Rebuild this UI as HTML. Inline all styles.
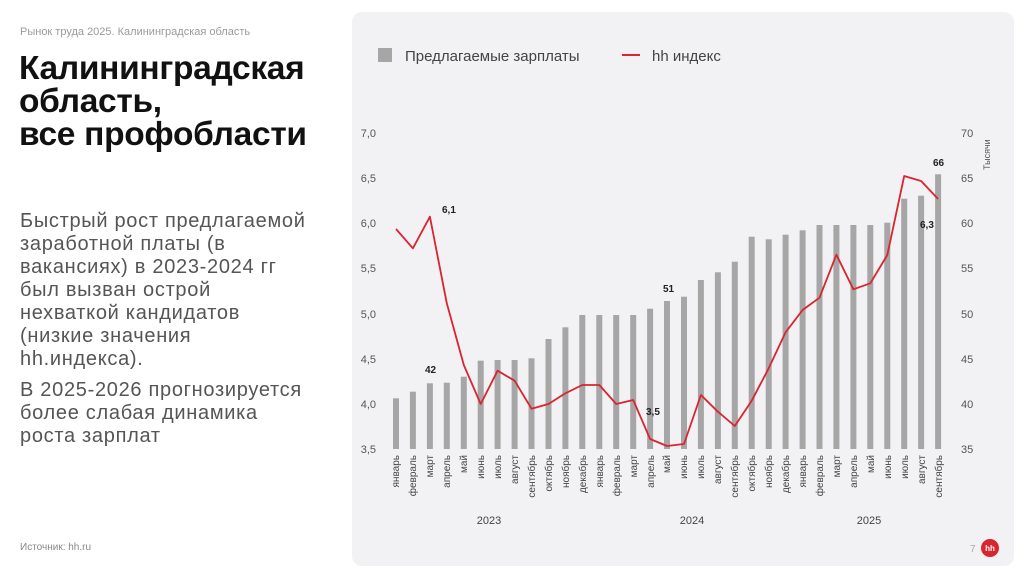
<!DOCTYPE html>
<html><head><meta charset="utf-8"><style>
body{margin:0;width:1024px;height:578px;background:#fff;overflow:hidden;font-family:"Liberation Sans","DejaVu Sans",sans-serif;position:relative}
.card{position:absolute;left:352px;top:12px;width:662px;height:554px;background:#f2f1f3;border-radius:10px}
.hdr{position:absolute;left:20px;top:26px;font-size:11px;color:#9a9a9a}
.title{position:absolute;left:19px;top:52px;font-size:33.5px;font-weight:bold;line-height:33px;color:#111;letter-spacing:-0.3px}
.body{position:absolute;left:20px;top:210px;font-size:20px;line-height:23px;color:#555;letter-spacing:0.7px;white-space:nowrap}
.src{position:absolute;left:20px;top:542px;font-size:10px;color:#888}
</style></head><body>
<div class="card"></div>
<div class="hdr">Рынок труда 2025. Калининградская область</div>
<div class="title">Калининградская<br>область,<br>все профобласти</div>
<div class="body">Быстрый рост предлагаемой<br>заработной платы (в<br>вакансиях) в 2023-2024 гг<br>был вызван острой<br>нехваткой кандидатов<br>(низкие значения<br>hh.индекса).<div style="margin-top:8px">В 2025-2026 прогнозируется<br>более слабая динамика<br>роста зарплат</div></div>
<div class="src">Источник: hh.ru</div>
<svg width="1024" height="578" style="position:absolute;left:0;top:0" font-family="Liberation Sans, sans-serif">
<rect x="378" y="48" width="14" height="14" fill="#a6a6a6"/>
<text x="405" y="61" font-size="15" fill="#444">Предлагаемые зарплаты</text>
<line x1="622" y1="55" x2="640" y2="55" stroke="#d9252f" stroke-width="2"/>
<text x="652" y="61" font-size="15" fill="#444">hh индекс</text>
<g font-size="11" fill="#555" text-anchor="end">
<text x="376" y="137">7,0</text><text x="376" y="182">6,5</text><text x="376" y="227">6,0</text><text x="376" y="272">5,5</text><text x="376" y="318">5,0</text><text x="376" y="363">4,5</text><text x="376" y="408">4,0</text><text x="376" y="453">3,5</text>
</g>
<g font-size="11" fill="#555">
<text x="961" y="137">70</text><text x="961" y="182">65</text><text x="961" y="227">60</text><text x="961" y="272">55</text><text x="961" y="318">50</text><text x="961" y="363">45</text><text x="961" y="408">40</text><text x="961" y="453">35</text>
</g>
<text transform="translate(990,170) rotate(-90)" font-size="9" fill="#555">Тысячи</text>
<g fill="#a6a6a6">
<rect x="393" y="398.3" width="6" height="50.7"/><rect x="409.9" y="391.7" width="6" height="57.3"/><rect x="426.9" y="383.3" width="6" height="65.7"/><rect x="443.8" y="382.7" width="6" height="66.3"/><rect x="460.8" y="376.7" width="6" height="72.3"/><rect x="477.7" y="360.7" width="6" height="88.3"/><rect x="494.6" y="360" width="6" height="89"/><rect x="511.6" y="360" width="6" height="89"/><rect x="528.5" y="358.3" width="6" height="90.7"/><rect x="545.5" y="339" width="6" height="110"/><rect x="562.4" y="327.3" width="6" height="121.7"/><rect x="579.3" y="315" width="6" height="134"/><rect x="596.3" y="315" width="6" height="134"/><rect x="613.2" y="315" width="6" height="134"/><rect x="630.2" y="315" width="6" height="134"/><rect x="647.1" y="308.7" width="6" height="140.3"/><rect x="664" y="301" width="6" height="148"/><rect x="681" y="296.7" width="6" height="152.3"/><rect x="697.9" y="280" width="6" height="169"/><rect x="714.9" y="272.3" width="6" height="176.7"/><rect x="731.8" y="261.7" width="6" height="187.3"/><rect x="748.7" y="236.7" width="6" height="212.3"/><rect x="765.7" y="239.3" width="6" height="209.7"/><rect x="782.6" y="234.7" width="6" height="214.3"/><rect x="799.6" y="230.3" width="6" height="218.7"/><rect x="816.5" y="225" width="6" height="224"/><rect x="833.4" y="225" width="6" height="224"/><rect x="850.4" y="225" width="6" height="224"/><rect x="867.3" y="225" width="6" height="224"/><rect x="884.3" y="222.7" width="6" height="226.3"/><rect x="901.2" y="198.7" width="6" height="250.3"/><rect x="918.1" y="195.7" width="6" height="253.3"/><rect x="935.1" y="174.3" width="6" height="274.7"/>
</g>
<polyline fill="none" stroke="#d9252f" stroke-width="1.8" stroke-linejoin="round" points="396,229 412.9,248.3 429.9,216.7 446.8,303.3 463.8,365 480.7,404 497.6,370.7 514.6,380.7 531.5,408.7 548.5,404 565.4,393.3 582.3,385 599.3,385 616.2,404 633.2,400 650.1,439 667,446 684,444 700.9,395 717.9,411.7 734.8,426 751.7,400.7 768.7,368.3 785.6,332.3 802.6,310 819.5,297.7 836.4,254.7 853.4,289.3 870.3,283.3 887.3,255 904.2,176 921.1,181 938.1,199"/>
<g font-size="10" font-weight="bold" fill="#222">
<text x="442" y="213">6,1</text><text x="425" y="373">42</text><text x="646" y="415">3,5</text><text x="663" y="292">51</text><text x="933" y="166">66</text><text x="920" y="228">6,3</text>
</g>
<g font-size="10" fill="#444" text-anchor="end">
<text transform="translate(399,455) rotate(-90)">январь</text><text transform="translate(416,455) rotate(-90)">февраль</text><text transform="translate(433,455) rotate(-90)">март</text><text transform="translate(450,455) rotate(-90)">апрель</text><text transform="translate(467,455) rotate(-90)">май</text><text transform="translate(484,455) rotate(-90)">июнь</text><text transform="translate(501,455) rotate(-90)">июль</text><text transform="translate(518,455) rotate(-90)">август</text><text transform="translate(535,455) rotate(-90)">сентябрь</text><text transform="translate(552,455) rotate(-90)">октябрь</text><text transform="translate(569,455) rotate(-90)">ноябрь</text><text transform="translate(586,455) rotate(-90)">декабрь</text><text transform="translate(603,455) rotate(-90)">январь</text><text transform="translate(620,455) rotate(-90)">февраль</text><text transform="translate(637,455) rotate(-90)">март</text><text transform="translate(654,455) rotate(-90)">апрель</text><text transform="translate(670,455) rotate(-90)">май</text><text transform="translate(687,455) rotate(-90)">июнь</text><text transform="translate(704,455) rotate(-90)">июль</text><text transform="translate(721,455) rotate(-90)">август</text><text transform="translate(738,455) rotate(-90)">сентябрь</text><text transform="translate(755,455) rotate(-90)">октябрь</text><text transform="translate(772,455) rotate(-90)">ноябрь</text><text transform="translate(789,455) rotate(-90)">декабрь</text><text transform="translate(806,455) rotate(-90)">январь</text><text transform="translate(823,455) rotate(-90)">февраль</text><text transform="translate(840,455) rotate(-90)">март</text><text transform="translate(857,455) rotate(-90)">апрель</text><text transform="translate(874,455) rotate(-90)">май</text><text transform="translate(891,455) rotate(-90)">июнь</text><text transform="translate(908,455) rotate(-90)">июль</text><text transform="translate(925,455) rotate(-90)">август</text><text transform="translate(942,455) rotate(-90)">сентябрь</text>
</g>
<g font-size="11" fill="#444" text-anchor="middle">
<text x="489" y="524">2023</text><text x="692" y="524">2024</text><text x="869" y="524">2025</text>
</g>
<text x="970" y="552" font-size="10" fill="#aaa">7</text>
<circle cx="990" cy="548" r="9" fill="#d9252f"/>
<text x="990" y="551" font-size="8" font-weight="bold" fill="#fff" text-anchor="middle">hh</text>
</svg>
</body></html>
